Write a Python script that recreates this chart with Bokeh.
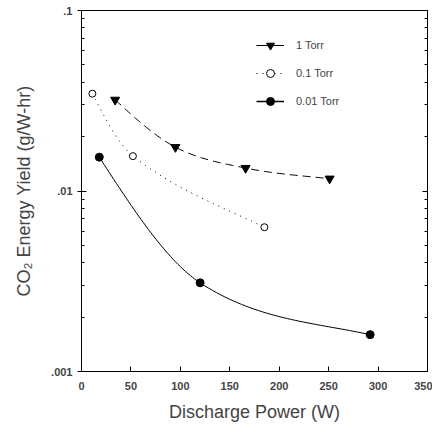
import numpy as np
from bokeh.plotting import figure
from bokeh.models import FixedTicker, Legend, LegendItem, Range1d, LogAxis
from bokeh.embed import file_html
from bokeh.resources import INLINE

# Data
p1_x = [34, 95, 166, 251]
p1_y = [0.032, 0.0175, 0.0134, 0.0117]
p01_x = [11, 52, 185]
p01_y = [0.0346, 0.0156, 0.0063]
p001_x = [18, 120, 292]
p001_y = [0.0154, 0.0031, 0.0016]

labels = ["1 Torr", "0.1 Torr", "0.01 Torr"]
x_ticks = [0, 50, 100, 150, 200, 250, 300, 350]
y_ticks = [0.001, 0.01, 0.1]
y_tick_labels = [".001", ".01", ".1"]


def smooth(xs, ys, n=80):
    """Cubic Hermite curve through the points in (x, log10 y) space."""
    x = np.asarray(xs, float)
    y = np.log10(np.asarray(ys, float))
    k = len(x)
    s = np.diff(y) / np.diff(x)
    m = np.empty(k)
    for i in range(1, k - 1):
        m[i] = (y[i + 1] - y[i - 1]) / (x[i + 1] - x[i - 1])
    m[0] = (3 * s[0] - m[1]) / 2
    m[-1] = (5 * s[-1] - m[-2]) / 4
    xx, yy = [], []
    for i in range(k - 1):
        h = x[i + 1] - x[i]
        t = np.linspace(0, 1, n // (k - 1) + 2)
        h00 = 2 * t**3 - 3 * t**2 + 1
        h10 = t**3 - 2 * t**2 + t
        h01 = -2 * t**3 + 3 * t**2
        h11 = t**3 - t**2
        xx.extend(x[i] + t * h)
        yy.extend(h00 * y[i] + h10 * h * m[i] + h01 * y[i + 1] + h11 * h * m[i + 1])
    return np.array(xx), 10 ** np.array(yy)


FONT = "Liberation Sans"

p = figure(width=432, height=428, y_axis_type="log",
           x_range=Range1d(0, 350), y_range=Range1d(0.001, 0.1),
           output_backend="svg", toolbar_location=None,
           min_border_left=81, min_border_right=5, min_border_top=10, min_border_bottom=57)
p.background_fill_color = "white"
p.border_fill_color = "white"
p.outline_line_color = "black"
p.outline_line_width = 1
p.xgrid.visible = False
p.ygrid.visible = False

# curves
sx, sy = smooth(p1_x, p1_y)
p.line(sx, sy, line_color="black", line_width=1, line_dash="8 5")
sx, sy = smooth(p01_x, p01_y)
p.line(sx, sy, line_color="black", line_width=1, line_dash="1 5")
sx, sy = smooth(p001_x, p001_y)
p.line(sx, sy, line_color="black", line_width=1)

m1 = p.scatter(p1_x, p1_y, marker="inverted_triangle", size=9,
               fill_color="black", line_color="black")
m2 = p.scatter(p01_x, p01_y, marker="circle", size=7,
               fill_color="white", line_color="black", line_width=1)
m3 = p.scatter(p001_x, p001_y, marker="circle", size=8,
               fill_color="black", line_color="black")

# legend glyphs
lg1 = p.line([None], [None], line_color="black", line_width=1)
lg2 = p.line([None], [None], line_color="black", line_width=1, line_dash="1 5")
lg3 = p.line([None], [None], line_color="black", line_width=1.5)

legend = Legend(items=[
    LegendItem(label=labels[0], renderers=[lg1, m1]),
    LegendItem(label=labels[1], renderers=[lg2, m2]),
    LegendItem(label=labels[2], renderers=[lg3, m3]),
], location=(175, 260))
legend.border_line_color = None
legend.background_fill_alpha = 0
legend.label_text_font = FONT
legend.label_text_font_size = "11px"
legend.label_standoff = 12
legend.glyph_width = 28
legend.glyph_height = 20
legend.spacing = 8
legend.padding = 0
p.add_layout(legend)

# axes
p.xaxis.ticker = FixedTicker(ticks=x_ticks)
p.xaxis.major_tick_in = 5
p.xaxis.major_tick_out = 0
p.xaxis.minor_tick_line_color = None
p.xaxis.major_label_text_font = FONT
p.xaxis.major_label_text_font_size = "11px"
p.xaxis.major_label_text_font_style = "bold"
p.xaxis.major_label_standoff = 10
p.xaxis.axis_label = "Discharge Power (W)"
p.xaxis.axis_label_text_font = FONT
p.xaxis.axis_label_text_font_size = "18px"
p.xaxis.axis_label_text_font_style = "normal"
p.xaxis.axis_label_standoff = 9

minor = [m * 10.0 ** d for d in (-3, -2) for m in range(2, 10)]
p.yaxis.ticker = FixedTicker(ticks=y_ticks, minor_ticks=minor)
p.yaxis.major_label_overrides = {t: s for t, s in zip(y_ticks, y_tick_labels)}
p.yaxis.major_tick_in = 5
p.yaxis.major_tick_out = 4
p.yaxis.minor_tick_in = 3
p.yaxis.minor_tick_out = 0
p.yaxis.major_label_text_font = FONT
p.yaxis.major_label_text_font_size = "11px"
p.yaxis.major_label_text_font_style = "bold"
p.yaxis.major_label_standoff = 5
p.yaxis.axis_label = "CO₂ Energy Yield (g/W-hr)"
p.yaxis.axis_label_text_font = FONT
p.yaxis.axis_label_text_font_size = "18px"
p.yaxis.axis_label_text_font_style = "normal"
p.yaxis.axis_label_standoff = 14

# right-hand frame ticks (no labels)
right = LogAxis(ticker=FixedTicker(ticks=y_ticks, minor_ticks=minor),
                major_label_overrides={t: " " for t in y_ticks},
                major_label_text_font_size="2px",
                major_label_standoff=0, major_tick_in=5, major_tick_out=0,
                minor_tick_in=3, minor_tick_out=0)
p.add_layout(right, "right")

open("out.html", "w").write(file_html(p, INLINE))
